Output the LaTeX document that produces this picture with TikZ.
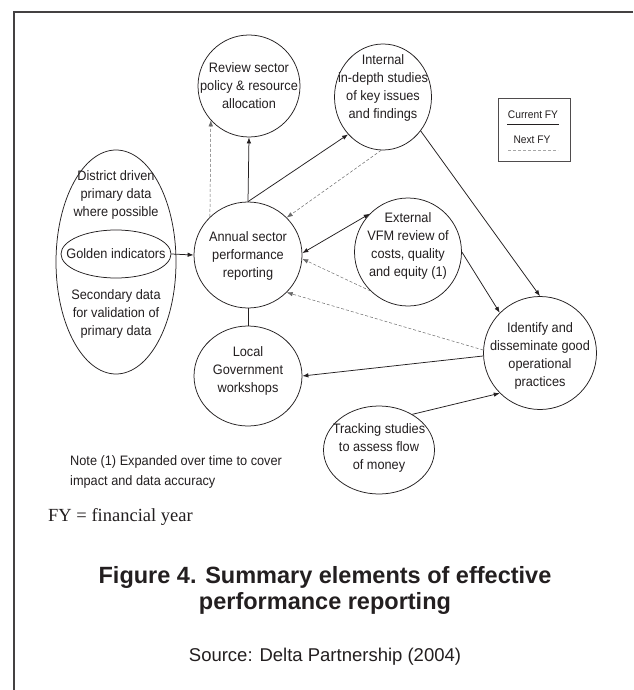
\documentclass[tikz,border=0pt]{standalone}
\usepackage{fontspec}
\setmainfont{Liberation Serif}
\setsansfont{Liberation Sans}
\newfontfamily\diagfont[FakeStretch=0.93]{Liberation Sans}
\usetikzlibrary{arrows.meta,shapes.geometric}
\definecolor{ink}{HTML}{231F20}
\definecolor{dashc}{HTML}{6A6A6A}
\begin{document}
\begin{tikzpicture}[x=1pt,y=-1pt,
  circ/.style={draw=ink, ellipse, line width=0.75pt, inner sep=0pt},
  lbl/.style={font=\diagfont\fontsize{13.7}{18}\selectfont, text=ink, align=center, inner sep=0pt},
  tip/.style={-{Latex[length=6pt,width=4.5pt]}},
  solidline/.style={draw=ink, line width=0.75pt},
  dashline/.style={draw=dashc, line width=0.5pt, dash pattern=on 3pt off 2pt},
]
\useasboundingbox (0,0) rectangle (633,690);
\fill[white] (0,0) rectangle (633,690);
\draw[ink!85, line width=2pt] (633,12) -- (14,12) -- (14,690);

% circles
\node[circ, minimum width=102pt, minimum height=102pt] (rev) at (249,86) {};
\node[lbl] (revt) at (249,86) {Review sector\\policy \& resource\\allocation};

\node[circ, minimum width=97pt, minimum height=106pt] (int) at (383,97) {};
\node[lbl] (intt) at (383,88) {Internal\\in-depth studies\\of key issues\\and findings};

\node[circ, minimum width=108pt, minimum height=106pt] (ann) at (248,255) {};
\node[lbl] (annt) at (248,256) {Annual sector\\performance\\reporting};

\node[circ, minimum width=107pt, minimum height=108pt] (ext) at (408,252) {};
\node[lbl] (extt) at (408,246) {External\\VFM review of\\costs, quality\\and equity (1)};

\node[circ, minimum width=108pt, minimum height=100pt] (loc) at (248,376) {};
\node[lbl] (loct) at (248,371) {Local\\Government\\workshops};

\node[circ, minimum width=113pt, minimum height=113pt] (ide) at (540,353) {};
\node[lbl] (idet) at (540,356) {Identify and\\disseminate good\\operational\\practices};

\node[circ, minimum width=111pt, minimum height=88pt] (trk) at (379,450) {};
\node[lbl] (trkt) at (379,448) {Tracking studies\\to assess flow\\of money};

\node[circ, minimum width=120pt, minimum height=224pt] (big) at (116,262) {};
\node[lbl] (bigtop) at (116,195) {District driven\\primary data\\where possible};
\node[lbl] (bigbot) at (116,314) {Secondary data\\for validation of\\primary data};
\node[circ, minimum width=110pt, minimum height=48pt] (gold) at (116,254) {};
\node[lbl] (goldt) at (116,254) {Golden indicators};

% connectors
\draw[solidline, tip] (ann.north) -- (rev.south);
\draw[dashline, tip] (ann.135) -- (rev.222);
\draw[solidline, tip] (ann.north) -- (int.227);
\draw[dashline, tip] (int.268) -- (ann.44);
\draw[solidline, {Latex[length=6pt,width=4.5pt]}-{Latex[length=6pt,width=4.5pt]}] (ann.2) -- (ext.135);
\draw[dashline, tip] (ext.226) -- (ann.356);
\draw[dashline, tip] (ide.177) -- (ann.316);
\draw[solidline, tip] (ide.183) -- (loc.east);
\draw[solidline, tip] (ext.east) -- (ide.135);
\draw[solidline, tip] (int.318) -- (ide.north);
\draw[solidline, tip] (trk.47) -- (ide.225);
\draw[solidline, tip] (gold.east) -- (ann.west);
\draw[solidline] (ann.south) -- (loc.north);

% legend
\node[draw=ink!80, line width=0.8pt, minimum width=72pt, minimum height=63pt, inner sep=0pt] (legend) at (534,129.5) {};
\node[font=\diagfont\fontsize{11}{13}\selectfont, text=ink, inner sep=0pt] (cur) at (533,115) {Current FY};
\coordinate (curA) at (507,124);
\coordinate (curB) at (559,124);
\draw[solidline] (curA) -- (curB);
\node[font=\diagfont\fontsize{11}{13}\selectfont, text=ink, inner sep=0pt] (nxt) at (532,140) {Next FY};
\coordinate (nxtA) at (508,150);
\coordinate (nxtB) at (558,150);
\draw[dashline, draw=gray!70] (nxtA) -- (nxtB);

% notes and caption
\node[font=\diagfont\fontsize{13.7}{20}\selectfont, text=ink, align=left, anchor=west, inner sep=0pt] (note) at (70,472) {Note (1) Expanded over time to cover\\impact and data accuracy};
\node[font=\rmfamily\fontsize{18.5}{22}\selectfont, text=ink, anchor=west, inner sep=0pt] (fy) at (48,517) {FY = financial year};
\node[font=\sffamily\bfseries\fontsize{23.5}{26}\selectfont, text=ink, align=center, inner sep=0pt] (title) at (325,590) {Figure 4. Summary elements of effective\\performance reporting};
\node[font=\sffamily\fontsize{18.5}{22}\selectfont, text=ink, inner sep=0pt] (src) at (325,657) {Source: Delta Partnership (2004)};
\end{tikzpicture}
\end{document}
